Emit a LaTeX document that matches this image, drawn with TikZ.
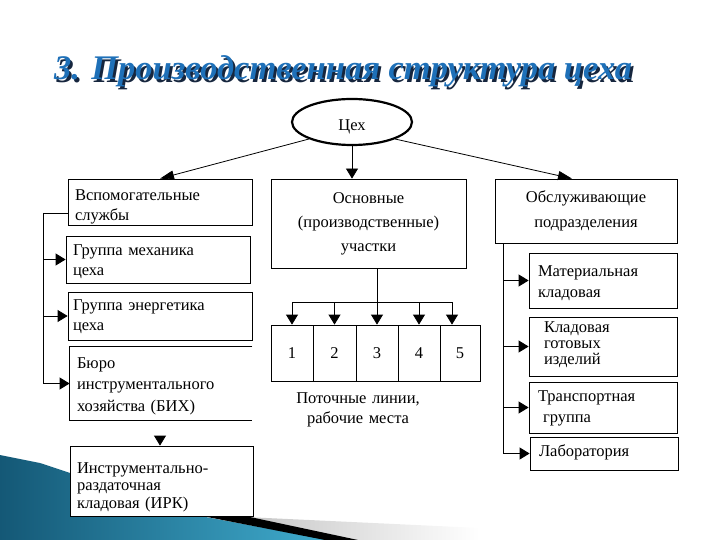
\documentclass[tikz,border=0pt]{standalone}
\usepackage{fontspec}
\setmainfont{Liberation Serif}
\usetikzlibrary{shapes.geometric,arrows.meta}

\definecolor{titleblue}{RGB}{30,112,184}
\definecolor{titleshade}{RGB}{22,38,62}
\definecolor{decodark}{RGB}{20,88,118}
\definecolor{decolight}{RGB}{64,172,206}
\newcommand{\shadowtext}[1]{\makebox[0pt][l]{\hspace{2.5pt}\raisebox{-2.5pt}{\color{titleshade}#1}}{\color{titleblue}#1}}

\begin{document}
\begin{tikzpicture}[x=1pt,y=-1pt]
  \tikzset{box/.style = {draw, fill=white, line width=0.8pt, inner xsep=7pt, inner ysep=0pt, align=left, font=\fontsize{16.5pt}{20pt}\selectfont}} % blocks
  \tikzset{cell/.style = {draw, fill=white, line width=0.8pt, minimum height=56, inner sep=0pt, font=\fontsize{16.5pt}{18pt}\selectfont}}
  \tikzset{arr/.style = {-{Triangle[length=10pt,width=12pt]}, line width=0.8pt}}
  \tikzset{longarr/.style = {-{Triangle[length=14pt,width=9pt]}, line width=0.8pt}}
  \useasboundingbox (0,0) rectangle (720,540);

  % background corner
  \shade[left color=decodark, right color=decolight] (0,455) -- (40,463) -- (200,516) -- (330,540) -- (0,540) -- cycle;
  \shade[left color=gray!45, right color=white] (245,517) -- (480,528) -- (480,540) -- (355,540) -- cycle;
  \fill[black] (192,514) -- (250,517) -- (358,540) -- (325,540) -- cycle;

  % title
  \node[font=\fontsize{34.5pt}{40pt}\bfseries\itshape, anchor=base] (title) at (343,80) {\shadowtext{3. Производственная структура цеха}};

  % top
  \node[ellipse, draw, line width=2.2pt, minimum width=120, minimum height=46, text height=18pt, text depth=0pt, font=\fontsize{16.5pt}{18pt}\selectfont] (cex) at (352,122) {Цех};

  \node[box, minimum width=184, minimum height=46, text width=170, text height=22pt, text depth=24pt] (vsp) at (160,202) {Вспомогательные\\службы};
  \node[box, minimum width=195, minimum height=89, text width=181, align=center, font=\fontsize{16.5pt}{24pt}\selectfont, text height=25pt, text depth=64pt] (osn) at (368.5,223.5) {Основные\\(производственные)\\участки};
  \node[box, minimum width=182, minimum height=64, text width=168, align=center, font=\fontsize{16.5pt}{25pt}\selectfont, text height=24pt, text depth=40pt] (obs) at (586,211) {Обслуживающие\\подразделения};

  % left column
  \node[box, minimum width=184, minimum height=47, text width=170, text height=19pt, text depth=28pt] (mech) at (158,259.5) {Группа механика\\цеха};
  \node[box, minimum width=184, minimum height=48, text width=174, inner xsep=5pt, text height=18pt, text depth=30pt] (energ) at (160,316) {Группа энергетика\\цеха};
  \node[box, draw=none, minimum width=182, minimum height=73, text width=168, font=\fontsize{16.5pt}{21.5pt}\selectfont, text height=21pt, text depth=52pt] (bih) at (161,383.5) {Бюро\\инструментального\\хозяйства (БИХ)};
  \node[box, minimum width=183, minimum height=70, text width=169, font=\fontsize{16.5pt}{17.5pt}\selectfont, text height=27pt, text depth=43pt] (irk) at (161.5,481) {Инструментально-\\раздаточная\\кладовая (ИРК)};

  % middle
  \foreach \i/\x/\w in {1/292/42, 2/334.5/43, 3/377/42, 4/419/42, 5/460/40}
    \node[cell, minimum width=\w] (c\i) at (\x,353) {\i};
  \node[align=center, text width=140, anchor=base, inner sep=0pt, font=\fontsize{16.5pt}{20pt}\selectfont] (potok) at (358,403) {Поточные линии,\\рабочие места};

  % right column
  \node[box, minimum width=148, minimum height=55, text width=130, inner xsep=9pt, font=\fontsize{16.5pt}{21pt}\selectfont, text height=23pt, text depth=32pt] (mat) at (603,280.5) {Материальная\\кладовая};
  \node[box, minimum width=148, minimum height=59, text width=118, inner xsep=15pt, font=\fontsize{16.5pt}{16pt}\selectfont, text height=15pt, text depth=44pt] (klad) at (603,346.5) {Кладовая\\готовых\\изделий};
  \node[box, minimum width=148, minimum height=51, text width=130, inner xsep=9pt, font=\fontsize{16.5pt}{21pt}\selectfont, text height=19pt, text depth=32pt] (trans) at (603,407.5) {Транспортная\\\hspace*{5pt}группа};
  \node[box, minimum width=148, minimum height=33, text width=130, inner xsep=9pt, text height=19pt, text depth=14pt] (lab) at (604,453.5) {Лаборатория};

  \coordinate (ltop) at (43,213);
  \coordinate (bus) at (377,302);
  \coordinate (rtop) at (503,243);
  \coordinate (irkin) at (160,436);

  % arrows from the shop
  \draw[longarr] (cex.south west) -- (vsp.north);
  \draw[arr] (cex.south) -- (cex.south |- osn.north);
  \draw[longarr] (cex.south east) -- ([xshift=-14pt]obs.north);

  % left links
  \draw[line width=0.8pt] (bih.north east) -- (bih.north west) -- (bih.south west) -- (bih.south east);
  \draw[line width=0.8pt] (vsp.west |- ltop) -- (ltop);
  \draw[arr] (ltop) |- (bih.west);
  \draw[arr] (ltop |- mech.west) -- (mech.west);
  \draw[arr] (ltop |- energ.west) -- (energ.west);
  \draw[arr] (irkin) -- (irk.north -| irkin);

  % middle links
  \draw[line width=0.8pt] (bus |- osn.south) -- (bus);
  \draw[line width=0.8pt] (c1.north |- bus) -- ([xshift=-8pt]c5.north |- bus);
  \foreach \i in {1,...,4}
    \draw[arr] (c\i.north |- bus) -- (c\i.north);
  \draw[arr] ([xshift=-8pt]c5.north |- bus) -- ([xshift=-8pt]c5.north);

  % right links
  \draw[line width=0.8pt] (rtop) -- (rtop |- trans.west);
  \draw[arr] (rtop) |- (lab.west);
  \draw[arr] (rtop |- mat.west) -- (mat.west);
  \draw[arr] (rtop |- klad.west) -- (klad.west);
  \draw[arr] (rtop |- trans.west) -- (trans.west);

\end{tikzpicture}
\end{document}
